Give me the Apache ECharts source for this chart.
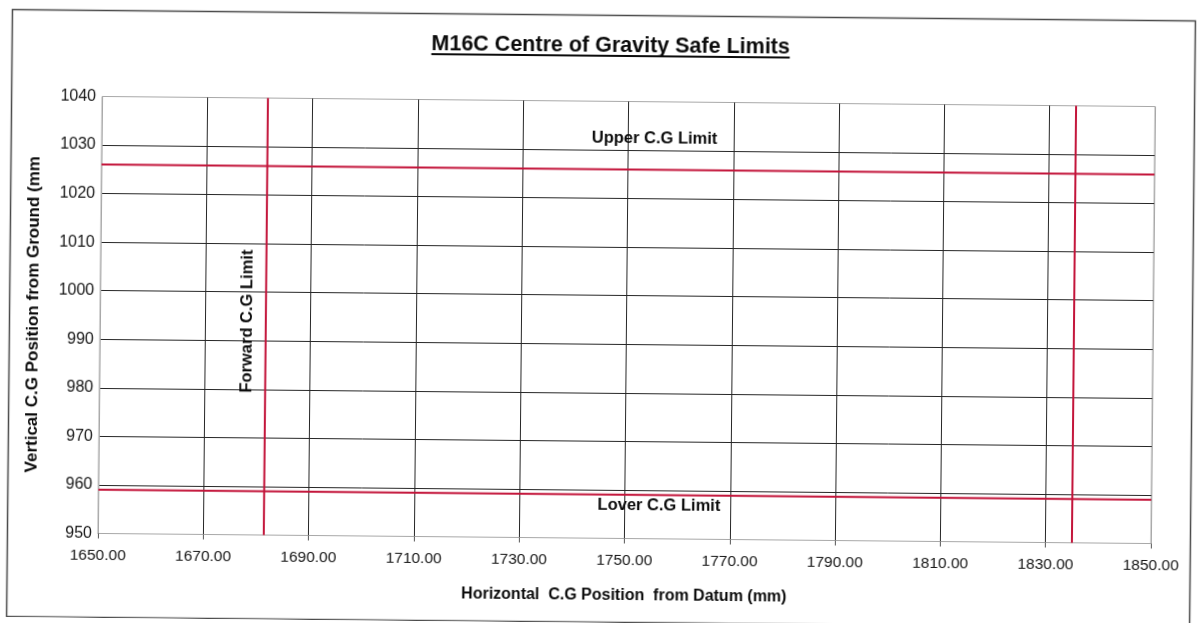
<!DOCTYPE html>
<html>
<head>
<meta charset="utf-8">
<script src="https://cdn.jsdelivr.net/npm/echarts@6/dist/echarts.min.js"></script>
<style>
  html, body { margin: 0; padding: 0; background: #fff; overflow: hidden; }
  #page { width: 1198px; height: 623px; transform: rotate(0.55deg); transform-origin: 626px 320px; }
  #chart { width: 1198px; height: 623px; }
</style>
</head>
<body>
<div id="page"><div id="chart"></div></div>
<script>
// Axis ranges and tick spacing (mm)
const xRange = [1650, 1850];
const xStep = 20;
const yRange = [950, 1040];
const yStep = 10;

// Safe-limit values (mm)
const upperLimit = 1026;
const lowerLimit = 959;
const forwardLimit = 1681.5;
const aftLimit = 1835;

// Texts
const titleText = 'M16C Centre of Gravity Safe Limits';
const xAxisTitle = 'Horizontal  C.G Position  from Datum (mm)';
const yAxisTitle = 'Vertical C.G Position from Ground (mm';
const limitLabels = ['Upper C.G Limit', 'Lover C.G Limit', 'Forward C.G Limit'];

// Where each limit label sits, in data coordinates
const labelX = [1755, 1756.5, 1678];
const labelY = [1032.3, 956.9, 994];
const labelRotate = [0, 0, 90];

const FONT = '"Liberation Sans", Arial, Helvetica, sans-serif';
const RED = '#c3143a';
const INK = '#0c0c0c';
const GRID_DARK = '#262626';
const BORDER = '#a8a8a8';

// Split line colours: the outermost lines coincide with the plot border
function splitColors(min, max, step) {
  const n = Math.round((max - min) / step) + 1;
  const arr = [];
  for (let i = 0; i < n; i++) arr.push(i === 0 || i === n - 1 ? BORDER : GRID_DARK);
  return arr;
}

const titleFont = 'bold 21.5px ' + FONT;
const measure = document.createElement('canvas').getContext('2d');
measure.font = titleFont;
const titleWidth = measure.measureText(titleText).width;
const titleCx = 608;

const limitSeries = [
  { name: limitLabels[0], data: [[xRange[0], upperLimit], [xRange[1], upperLimit]] },
  { name: limitLabels[1], data: [[xRange[0], lowerLimit], [xRange[1], lowerLimit]] },
  { name: limitLabels[2], data: [[forwardLimit, yRange[0]], [forwardLimit, yRange[1]]] },
  { name: 'Aft C.G Limit', data: [[aftLimit, yRange[0]], [aftLimit, yRange[1]]] }
].map(s => ({
  type: 'line',
  name: s.name,
  data: s.data,
  symbol: 'none',
  silent: true,
  z: 5,
  lineStyle: { color: RED, width: 2 }
}));

const labelSeries = limitLabels.map((text, i) => ({
  type: 'scatter',
  data: [[labelX[i], labelY[i]]],
  symbolSize: 0,
  silent: true,
  z: 6,
  itemStyle: { opacity: 1 },
  label: {
    show: true,
    position: 'inside',
    formatter: text,
    rotate: labelRotate[i],
    fontFamily: FONT,
    fontWeight: 'bold',
    fontSize: 16.5,
    color: INK,
    opacity: 1
  }
}));

const chart = echarts.init(document.getElementById('chart'), null, { renderer: 'canvas' });
chart.setOption({
  animation: false,
  backgroundColor: '#fff',
  textStyle: { fontFamily: FONT },
  graphic: [
    {
      type: 'rect',
      shape: { x: 9.5, y: 15.5, width: 1183, height: 607 },
      style: { fill: 'none', stroke: '#4a4a4a', lineWidth: 1.5 },
      silent: true
    },
    {
      type: 'text',
      x: titleCx,
      y: 46,
      style: {
        text: titleText,
        font: titleFont,
        fill: INK,
        textAlign: 'center',
        textVerticalAlign: 'middle'
      },
      silent: true
    },
    {
      type: 'line',
      shape: { x1: titleCx - titleWidth / 2, y1: 56, x2: titleCx + titleWidth / 2, y2: 56 },
      style: { stroke: INK, lineWidth: 2 },
      silent: true
    }
  ],
  grid: {
    left: 100,
    right: 45,
    top: 101.5,
    bottom: 84.5,
    show: true,
    borderColor: BORDER,
    borderWidth: 1,
    backgroundColor: 'transparent'
  },
  xAxis: {
    type: 'value',
    min: xRange[0],
    max: xRange[1],
    interval: xStep,
    name: xAxisTitle,
    nameLocation: 'middle',
    nameGap: 49,
    nameTextStyle: { fontFamily: FONT, fontWeight: 'bold', fontSize: 16, color: INK },
    axisLine: { show: true, lineStyle: { color: BORDER, width: 1 } },
    axisTick: { show: true, length: 5, lineStyle: { color: '#555' } },
    axisLabel: {
      formatter: v => v.toFixed(2),
      fontFamily: FONT,
      fontSize: 15.5,
      color: '#151515',
      margin: 14
    },
    splitLine: { show: true, lineStyle: { color: splitColors(xRange[0], xRange[1], xStep), width: 1 } }
  },
  yAxis: {
    type: 'value',
    min: yRange[0],
    max: yRange[1],
    interval: yStep,
    name: yAxisTitle,
    nameLocation: 'middle',
    nameRotate: 90,
    nameGap: 58,
    nameTextStyle: { fontFamily: FONT, fontWeight: 'bold', fontSize: 17, color: INK },
    axisLine: { show: true, lineStyle: { color: BORDER, width: 1 } },
    axisTick: { show: false },
    axisLabel: { formatter: v => String(v), fontFamily: FONT, fontSize: 16, color: '#151515', margin: 6 },
    splitLine: { show: true, lineStyle: { color: splitColors(yRange[0], yRange[1], yStep), width: 1 } }
  },
  series: limitSeries.concat(labelSeries)
});
</script>
</body>
</html>
